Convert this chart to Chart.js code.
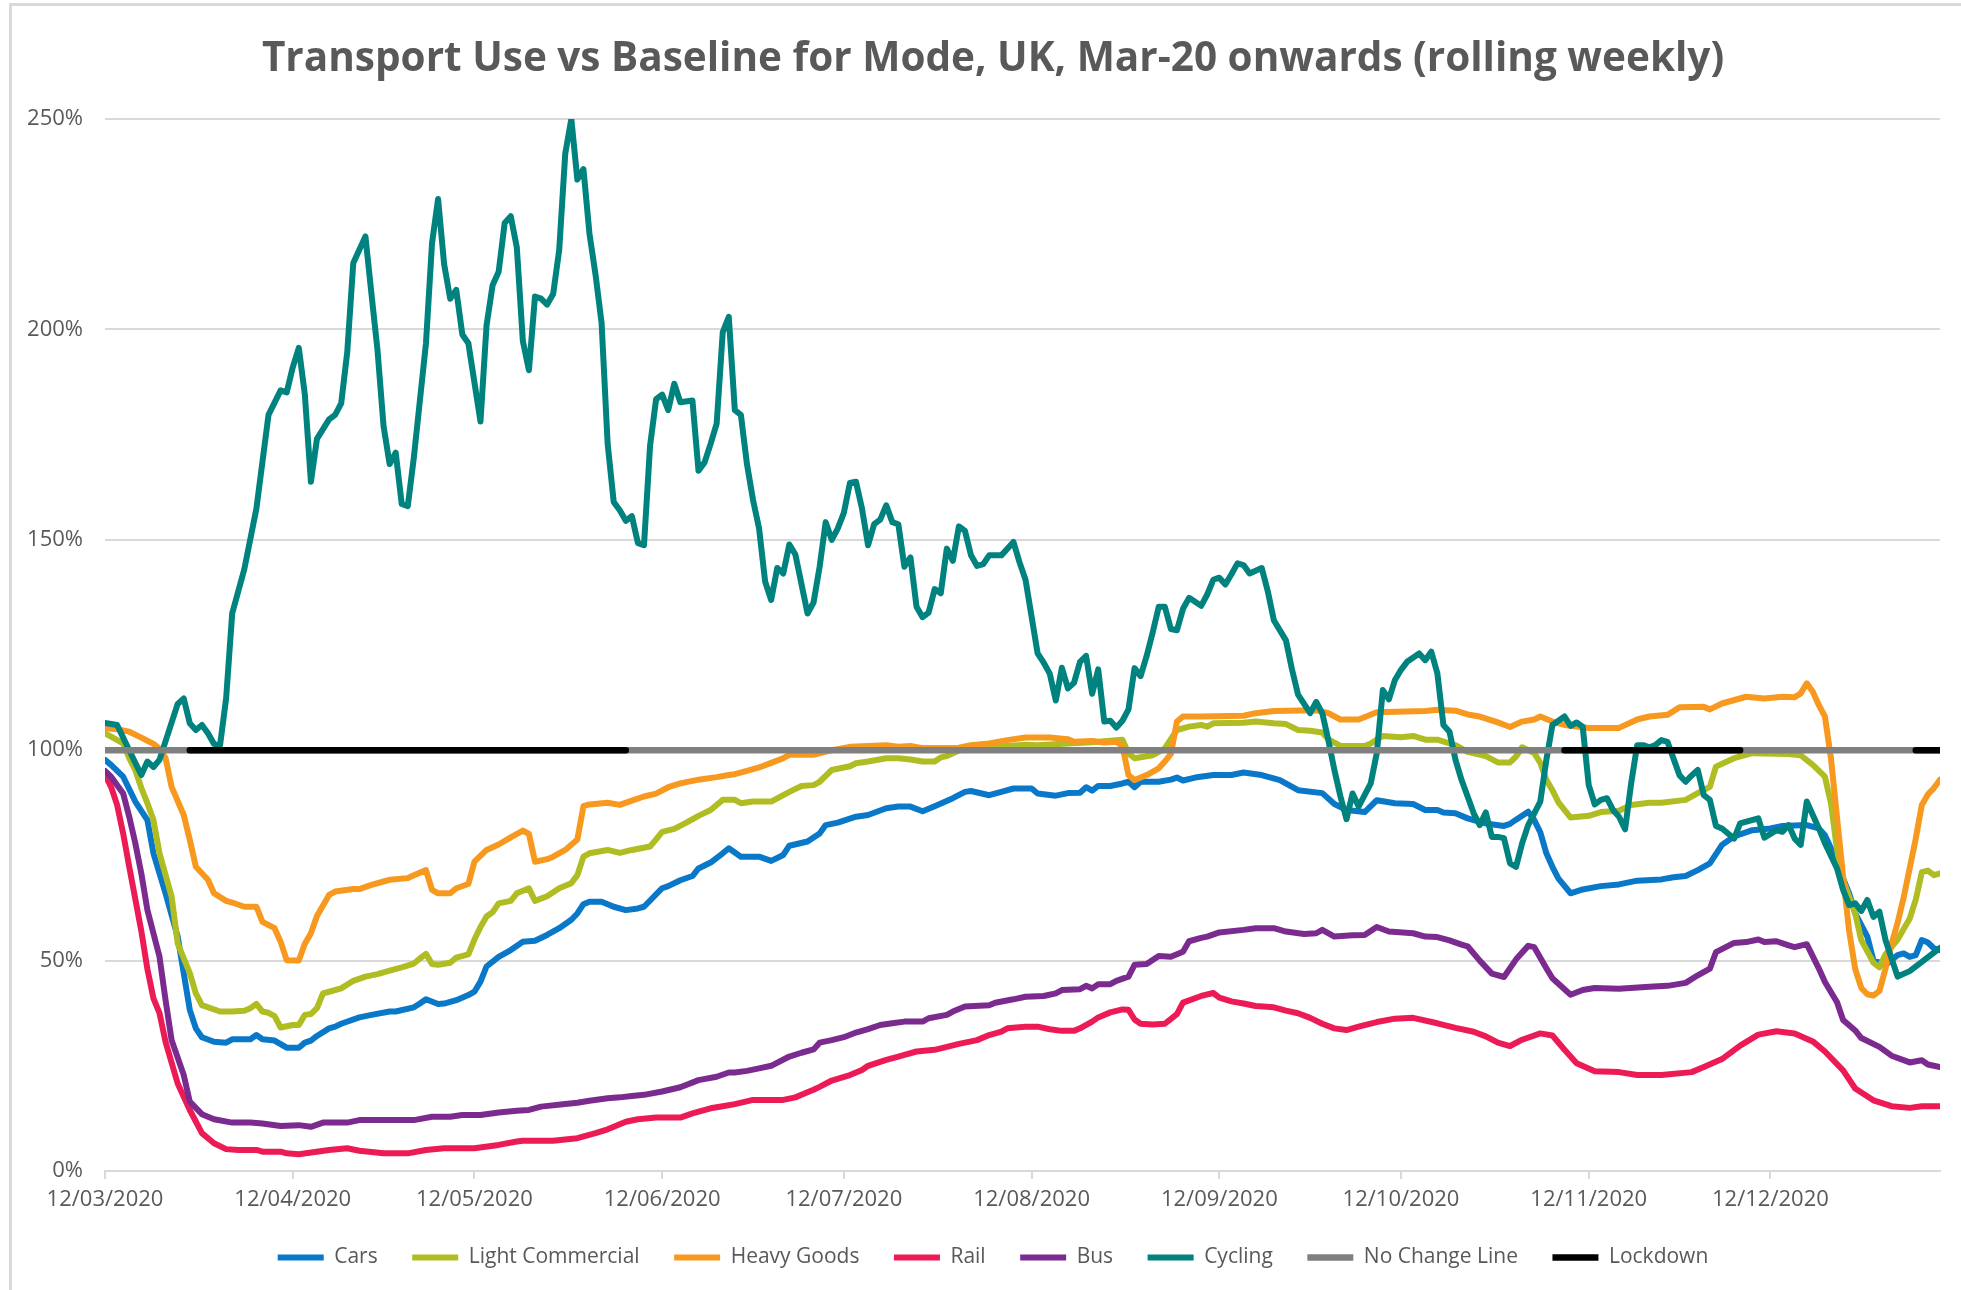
<!DOCTYPE html>
<html>
<head>
  <title>Transport Use vs Baseline</title>
  <script src="https://cdn.jsdelivr.net/npm/chart.js"></script>
  <style>
    html, body { margin: 0; padding: 0; background: #fff; overflow: hidden; }
    #frame { position: absolute; left: 9px; top: 3px; width: 2100px; height: 1400px;
             border-left: 3px solid #d9d9d9; border-top: 3px solid #d9d9d9; }
    #chart { position: absolute; left: 0; top: 0; }
  </style>
</head>
<body>
  <div id="frame"></div>
  <!-- canvas is a bit wider than the window so title/legend centre where the original does -->
  <canvas id="chart" width="2007" height="1290"></canvas>
  <script>
    // x = days since 12/03/2020, y = % of baseline
    const lastDay = 303;
    const tickDays = [0, 31, 61, 92, 122, 153, 184, 214, 245, 275];
    const tickLabels = ['12/03/2020', '12/04/2020', '12/05/2020', '12/06/2020', '12/07/2020',
                        '12/08/2020', '12/09/2020', '12/10/2020', '12/11/2020', '12/12/2020'];
    const lockdownSpans = [[14, 86], [241, 270], [299, 303]];

    const cars = [[0,97.7],[1,96.5],[3,93.7],[5,87.8],[7,83.4],[8,75.5],[10,66],[12,55.7],[13,47],[14,38.3],
      [15,33.9],[16,31.8],[18,30.7],[20,30.5],[21,31.3],[24,31.3],[25,32.3],[26,31.3],[28,31],[30,29.3],
      [32,29.3],[33,30.5],[34,31],[35,32.1],[37,33.9],[38,34.3],[39,35],[42,36.5],[44,37.1],[47,37.9],
      [48,37.9],[51,38.9],[52,39.8],[53,40.8],[55,39.7],[56,39.8],[58,40.6],[60,41.8],[61,42.6],[62,45],
      [63,48.6],[65,50.9],[67,52.5],[69,54.5],[71,54.7],[73,56.1],[75,57.7],[77,59.7],[78,61.2],[79,63.4],
      [80,64],[82,64],[84,62.8],[86,62],[88,62.4],[89,62.8],[92,67.2],[93,67.7],[95,69.1],[97,70.1],
      [98,71.9],[100,73.3],[102,75.5],[103,76.7],[105,74.7],[108,74.7],[110,73.7],[112,75.1],[113,77.3],[116,78.3],
      [118,80.2],[119,82.2],[121,82.8],[124,84.2],[126,84.6],[129,86.2],[131,86.6],[133,86.6],[135,85.5],[137,86.7],
      [140,88.6],[142,90.1],[143,90.3],[146,89.3],[148,90.1],[150,90.9],[153,90.9],[154,89.7],[157,89.2],[159,89.8],
      [161,89.9],[162,91.2],[163,90.4],[164,91.5],[166,91.5],[168,92.1],[169,92.5],[170,91.2],[171,92.5],[174,92.5],
      [176,93],[177,93.5],[178,92.8],[180,93.5],[183,94.1],[186,94.1],[188,94.7],[191,94.1],[194,92.9],[197,90.5],
      [201,89.8],[203,87.2],[205,85.8],[208,85.3],[210,88.1],[213,87.4],[216,87.2],[218,85.8],[220,85.8],[221,85.2],
      [223,85],[225,83.8],[227,83],[228,82.6],[231,82],[232,82.5],[233,83.5],[235,85.4],[236,83.4],[237,80.5],
      [238,75.5],[239,72.3],[240,69.5],[242,66],[244,66.9],[247,67.7],[250,68.1],[253,69],[257,69.3],[259,69.8],
      [261,70.1],[263,71.5],[265,73.1],[267,77.5],[269,79.5],[272,81],[275,81.4],[277,82],[281,82.2],[283,81.4],
      [284,79.8],[285,76.7],[286,73],[288,66],[289,61.2],[291,55.7],[292,50.1],[294,49],[296,51.3],[297,51.7],
      [298,50.9],[299,51.3],[300,54.9],[301,54.3],[302,52.9],[303,52.5]];

    const lightCommercial = [[0,104],[1,103.2],[3,101.6],[4,98.1],[5,95.3],[6,91],[7,87.4],[8,83.4],[9,75.5],[11,65.2],
      [12,54.1],[14,47],[15,42.2],[16,39.4],[19,37.9],[21,37.9],[23,38.1],[24,38.7],[25,39.7],[26,37.9],
      [27,37.6],[28,36.8],[29,34.1],[31,34.7],[32,34.7],[33,37.1],[34,37.3],[35,38.7],[36,42.2],[37,42.6],
      [39,43.4],[41,45.2],[43,46.2],[45,46.8],[47,47.6],[49,48.4],[51,49.3],[52,50.5],[53,51.6],[54,49.2],
      [55,49],[57,49.5],[58,50.7],[60,51.5],[61,55],[62,58],[63,60.5],[64,61.5],[65,63.6],[67,64.2],
      [68,66],[70,67.2],[71,64.2],[73,65.3],[75,67.2],[77,68.4],[78,70.3],[79,74.7],[80,75.5],[83,76.3],
      [85,75.6],[87,76.3],[90,77.1],[91,78.8],[92,80.6],[94,81.3],[96,82.8],[98,84.4],[100,85.8],[102,88.2],
      [104,88.2],[105,87.4],[107,87.8],[110,87.8],[113,90.1],[115,91.5],[117,91.7],[118,92.5],[120,95.3],[123,96.2],
      [124,96.9],[126,97.3],[129,98.1],[131,98.1],[133,97.8],[135,97.3],[137,97.3],[138,98.3],[139,98.6],[141,99.9],
      [142,100.2],[147,100.8],[152,101.3],[154,101.2],[159,101.6],[163,101.9],[168,102.5],[169,99.2],[170,98.1],[173,98.8],
      [175,100.4],[177,104.8],[179,105.6],[181,106],[182,105.6],[183,106.4],[188,106.5],[190,106.8],[193,106.4],[195,106.2],
      [197,104.8],[199,104.6],[201,104.2],[202,102.6],[204,101],[208,101],[209,101.6],[211,103.4],[214,103.1],[216,103.4],
      [218,102.5],[220,102.5],[222,101.6],[223,101.2],[225,99.6],[228,98.6],[230,97.1],[232,97.1],[233,98.5],[234,100.7],
      [236,99.3],[237,97],[238,93],[239,90.5],[240,87.6],[242,84],[245,84.4],[247,85.3],[250,85.6],[252,87],
      [255,87.5],[257,87.5],[261,88.2],[263,89.8],[265,91.3],[266,96.1],[269,98.1],[272,99.3],[278,99.1],[280,98.8],
      [282,96.5],[284,93.7],[285,87.4],[286,76.3],[287,69.2],[289,61.2],[290,54.9],[292,49.5],[293,48.4],[294,51.5],
      [296,55],[298,60],[299,64.5],[300,71],[301,71.4],[302,70.3],[303,70.7]];

    const heavyGoods = [[0,105.2],[2,105],[4,104.4],[6,103],[8,101.5],[9,100.4],[10,98.1],[11,91.3],[13,84.6],[14,78.7],
      [15,72.3],[17,69.2],[18,66],[20,64.2],[21,63.8],[23,62.8],[25,62.8],[26,59.2],[28,57.7],[29,54.5],
      [30,50.1],[32,50],[33,54],[34,56.5],[35,60.6],[37,65.6],[38,66.4],[41,67],[42,67],[44,68],
      [46,68.8],[47,69.2],[50,69.6],[51,70.3],[53,71.5],[54,66.8],[55,66],[57,66],[58,67.2],[60,68.2],
      [61,73.5],[63,76.3],[65,77.6],[67,79.3],[69,80.9],[70,80.1],[71,73.5],[73,74.1],[74,74.7],[76,76.3],
      [78,78.8],[79,86.7],[80,87.1],[83,87.5],[85,87],[87,88],[89,89],[91,89.7],[93,91.2],[95,92.1],
      [96,92.4],[98,93],[101,93.6],[103,94.1],[104,94.3],[106,95.1],[108,95.9],[110,97],[112,98.1],[113,98.9],
      [117,98.9],[120,100],[123,100.8],[126,101],[129,101.2],[131,100.8],[133,101],[135,100.5],[141,100.6],[143,101.2],
      [146,101.6],[149,102.4],[152,103],[156,103],[159,102.6],[160,102],[163,102.2],[165,101.8],[167,102],[168,101],
      [169,94.1],[170,92.9],[172,94.1],[174,95.7],[175,97.3],[176,99.1],[177,106.8],[178,108],[181,108],[188,108.2],
      [190,108.8],[193,109.3],[200,109.5],[202,108.8],[204,107.3],[207,107.3],[210,109],[218,109.3],[220,109.6],[223,109.4],
      [225,108.5],[227,108],[230,106.6],[232,105.5],[234,106.8],[236,107.3],[237,108],[239,106.8],[241,106],[245,105.3],
      [250,105.3],[253,107.3],[255,108],[258,108.4],[260,110.2],[264,110.3],[265,109.7],[267,111.1],[271,112.7],[274,112.3],
      [277,112.7],[279,112.6],[280,113.5],[281,115.9],[282,113.9],[283,110.7],[284,108],[285,98],[286,84],[287,70],
      [288,57],[289,48],[290,43.5],[291,42],[292,41.7],[293,42.8],[294,48.1],[295,54],[296,59],[297,65],
      [298,72],[299,79],[300,87],[301,89.5],[302,91],[303,93]];

    const rail = [[0,94.1],[1,91.3],[2,87],[3,80.2],[4,72.3],[6,57],[7,48],[8,41],[9,37.5],[10,30.7],
      [12,20.8],[14,14.5],[16,9],[18,6.6],[20,5.2],[22,5],[25,5],[26,4.6],[29,4.6],[30,4.2],
      [32,4],[37,5],[40,5.4],[42,4.8],[46,4.2],[50,4.2],[53,5],[56,5.4],[61,5.4],[65,6.2],
      [68,7],[69,7.2],[74,7.2],[78,7.8],[81,9],[83,9.9],[84,10.5],[86,11.7],[88,12.3],[91,12.7],
      [95,12.7],[97,13.7],[100,14.9],[102,15.4],[104,15.9],[107,16.9],[112,16.9],[114,17.5],[115,18.1],[117,19.3],
      [118,20],[120,21.5],[123,22.8],[125,24],[126,25],[129,26.4],[131,27.2],[132,27.6],[134,28.4],[137,28.8],
      [139,29.5],[141,30.2],[144,31.1],[146,32.3],[148,33.1],[149,33.9],[152,34.3],[154,34.3],[156,33.7],[158,33.3],
      [160,33.3],[161,33.9],[163,35.5],[164,36.5],[166,37.7],[168,38.4],[169,38.3],[170,36],[171,35],[173,34.8],
      [175,35],[177,37.3],[178,40],[181,41.6],[183,42.3],[184,41.2],[186,40.3],[188,39.8],[190,39.2],[193,38.9],
      [195,38.1],[197,37.5],[199,36.4],[201,35],[203,33.9],[205,33.5],[207,34.3],[210,35.4],[213,36.2],[216,36.4],
      [220,35.1],[223,34],[226,33.1],[228,32],[230,30.5],[232,29.7],[234,31.2],[237,32.7],[239,32.2],[241,28.8],
      [243,25.6],[246,23.7],[250,23.5],[253,22.8],[257,22.8],[262,23.5],[264,24.7],[267,26.6],[270,29.8],[273,32.4],
      [276,33.2],[279,32.7],[282,30.8],[284,28.4],[287,23.9],[289,19.6],[292,16.8],[295,15.4],[298,15],[300,15.4],
      [303,15.4]];

    const bus = [[0,95.1],[1,93.7],[3,89.7],[4,84.2],[5,77.9],[6,70.7],[7,62],[9,50.9],[10,40.6],[11,31.1],
      [13,22.8],[14,16.5],[16,13.5],[18,12.3],[21,11.5],[24,11.5],[26,11.3],[29,10.7],[32,10.9],[34,10.5],
      [36,11.5],[40,11.5],[42,12.1],[51,12.1],[54,12.9],[57,12.9],[59,13.3],[62,13.3],[65,13.9],[68,14.3],
      [70,14.5],[72,15.3],[76,15.9],[78,16.2],[80,16.7],[83,17.3],[85,17.5],[87,17.8],[89,18.1],[92,18.9],
      [95,19.9],[98,21.6],[101,22.4],[103,23.4],[104,23.4],[106,23.8],[108,24.4],[110,25],[113,27.2],[115,28.1],
      [117,28.9],[118,30.5],[120,31.1],[122,31.8],[124,32.9],[126,33.7],[128,34.7],[130,35.1],[132,35.5],[135,35.5],
      [136,36.3],[139,37.1],[140,37.9],[142,39.1],[146,39.4],[147,40],[150,40.8],[152,41.4],[155,41.6],[157,42.2],
      [158,43],[161,43.2],[162,44],[163,43.4],[164,44.4],[166,44.4],[167,45.2],[169,46.2],[170,49],[172,49.2],
      [174,51.1],[176,50.9],[178,52.1],[179,54.6],[181,55.4],[182,55.7],[184,56.7],[188,57.3],[190,57.7],[193,57.7],
      [195,56.9],[198,56.3],[200,56.5],[201,57.3],[203,55.7],[206,56],[208,56.1],[210,58],[212,56.9],[216,56.5],
      [218,55.7],[220,55.6],[222,54.8],[224,53.8],[225,53.4],[227,50],[229,46.9],[231,46.1],[233,50.3],[235,53.5],
      [236,53.2],[238,48.2],[239,45.8],[242,41.9],[244,43],[246,43.5],[250,43.3],[255,43.8],[258,44],[261,44.7],
      [263,46.5],[265,48.1],[266,52],[269,54.2],[271,54.4],[273,55],[274,54.4],[276,54.6],[278,53.6],[279,53.2],
      [281,53.9],[283,48.1],[284,44.9],[286,40.1],[287,35.9],[289,33.4],[290,31.6],[293,29.5],[295,27.4],[298,25.8],
      [300,26.3],[301,25.3],[303,24.7]];

    const cycling = [[0,106.5],[2,106],[4,100],[5,97],[6,94.1],[7,97.3],[8,96],[9,97.7],[12,111],[13,112.3],
      [14,106.4],[15,104.8],[16,106],[17,104],[18,101.5],[19,101.2],[20,112.3],[21,132.5],[23,143],[25,157.4],
      [27,179.7],[29,185.5],[30,185],[31,191],[32,195.6],[33,184.5],[34,163.8],[35,174],[37,178.6],[38,179.7],
      [39,182.4],[40,194.6],[41,215.8],[43,222.1],[44,208.4],[45,195],[46,177],[47,168],[48,170.7],[49,158.5],
      [50,158],[51,169.6],[53,196.7],[54,220.5],[55,231],[56,215.5],[57,207.3],[58,209.4],[59,198.8],[60,196.7],
      [62,178.1],[63,200.9],[64,210.5],[65,213.7],[66,225.3],[67,226.9],[68,219.5],[69,197.2],[70,190.3],[71,207.8],
      [72,207.3],[73,205.9],[74,208.4],[75,218.9],[76,241.8],[77,250],[78,235.6],[79,238.1],[80,222.7],[81,213],
      [82,201.5],[83,172.8],[84,159],[85,157],[86,154.5],[87,155.6],[88,149.2],[89,148.7],[90,172.3],[91,183.4],
      [92,184.5],[93,180.8],[94,187.1],[95,182.7],[97,183.1],[98,166.4],[99,168.4],[100,172.8],[101,177.6],[102,199.3],
      [103,203],[104,180.8],[105,179.7],[106,168],[107,159.5],[108,152.7],[109,140.1],[110,135.7],[111,143.3],[112,142],
      [113,148.9],[114,146.5],[116,132.5],[117,135.1],[118,143.6],[119,154.2],[120,150],[121,152.7],[122,156.4],[123,163.5],
      [124,163.8],[125,157.4],[126,148.7],[127,153.7],[128,154.8],[129,158.2],[130,154.2],[131,153.7],[132,143.6],[133,145.8],
      [134,134.1],[135,131.6],[136,132.7],[137,138.3],[138,137.3],[139,147.9],[140,145],[141,153.2],[142,152.1],[143,146.3],
      [144,143.8],[145,144.2],[146,146.3],[148,146.3],[149,147.9],[150,149.5],[151,144.7],[152,140.5],[154,123],[155,120.8],
      [156,118.2],[157,111.8],[158,119.6],[159,114.7],[160,116],[161,121],[162,122.4],[163,113.4],[164,119.2],[165,106.8],
      [166,107],[167,105.4],[168,107],[169,109.7],[170,119.5],[171,117.6],[172,122.4],[173,128],[174,134.1],[175,134.1],
      [176,128.8],[177,128.5],[178,133.6],[179,136.2],[181,134.3],[182,137],[183,140.5],[184,141],[185,139.4],[186,141.8],
      [187,144.4],[188,144],[189,142],[191,143.3],[192,137.8],[193,130.9],[195,126.1],[196,119.2],[197,113.2],[198,111],
      [199,108.8],[200,111.5],[201,108.8],[202,102.4],[203,95.3],[204,89],[205,83.6],[206,89.7],[207,86.6],[209,92.1],
      [210,99.3],[211,114.3],[212,112.1],[213,116.7],[214,119.1],[215,121],[217,123],[218,121.4],[219,123.4],[220,118.3],
      [221,106],[222,104.4],[223,97.7],[224,92.9],[225,89],[226,85],[227,82.2],[228,85.2],[229,79.4],[230,79.4],
      [231,79.1],[232,73.1],[233,72.3],[234,77.9],[235,82.2],[237,87.8],[238,97.7],[239,106],[241,108],[242,105.8],
      [243,106.6],[244,105.6],[245,91.7],[246,87.1],[247,88.2],[248,88.6],[249,85.8],[250,84.2],[251,81.2],[252,92.1],
      [253,101.2],[254,101.2],[255,100.7],[256,101.2],[257,102.4],[258,102],[259,98],[260,94],[261,92.5],[262,94],
      [263,95.3],[264,89.3],[265,88.2],[266,82],[267,81.4],[269,79],[270,82.6],[273,83.8],[274,79.2],[276,81],
      [277,80.6],[278,82.2],[279,79],[280,77.5],[281,87.8],[282,84.6],[283,81.4],[284,77.9],[286,71.9],[287,66.8],
      [288,63.2],[289,63.6],[290,61.8],[291,64.4],[292,60.4],[293,61.6],[294,54.9],[296,46.2],[298,47.5],[300,49.7],
      [303,53]];

    const textColor = '#595959';
    const gridColor = '#d9d9d9';
    const tickFont = { family: '"Open Sans", sans-serif', size: 22 };

    const xy = (arr) => arr.map(([x, y]) => ({ x: x, y: y }));
    const noChange = [{ x: 0, y: 100 }, { x: lastDay, y: 100 }];
    const lockdown = [];
    lockdownSpans.forEach(([a, b]) => {
      lockdown.push({ x: a, y: 100 }, { x: b, y: 100 }, { x: b + 0.5, y: null });
    });

    function series(label, data, color, width, order) {
      return {
        label: label, data: data, borderColor: color, backgroundColor: color,
        borderWidth: width, pointRadius: 0, tension: 0, fill: false,
        borderJoinStyle: 'round', borderCapStyle: 'round', spanGaps: false, order: order
      };
    }

    const datasets = [
      series('Cars', xy(cars), '#0a78c8', 6, 8),
      series('Light Commercial', xy(lightCommercial), '#afbd22', 6, 7),
      series('Heavy Goods', xy(heavyGoods), '#f7991f', 6, 6),
      series('Rail', xy(rail), '#ed1b55', 6, 5),
      series('Bus', xy(bus), '#7b2b8f', 6, 4),
      series('Cycling', xy(cycling), '#00827f', 6, 3),
      series('No Change Line', noChange, '#808080', 6.5, 2),
      series('Lockdown', lockdown, '#000000', 6.5, 1)
    ];

    new Chart(document.getElementById('chart'), {
      type: 'line',
      data: { datasets: datasets },
      options: {
        responsive: false,
        animation: false,
        devicePixelRatio: 1,
        layout: { padding: { left: 0, right: 21, top: 0, bottom: 12 } },
        plugins: {
          title: {
            display: true,
            text: 'Transport Use vs Baseline for Mode, UK, Mar-20 onwards (rolling weekly)',
            color: textColor,
            font: { family: '"Open Sans", sans-serif', size: 40.5, weight: 'bold' },
            padding: { top: 35, bottom: 35.4 }
          },
          legend: {
            position: 'bottom',
            labels: {
              usePointStyle: true, pointStyle: 'line', pointStyleWidth: 46, padding: 34.5,
              color: textColor, font: { family: '"Open Sans", sans-serif', size: 21 },
              sort: (a, b) => a.datasetIndex - b.datasetIndex
            }
          },
          tooltip: { enabled: false }
        },
        scales: {
          x: {
            type: 'linear', min: 0, max: lastDay,
            afterBuildTicks: (s) => { s.ticks = tickDays.map(v => ({ value: v })); },
            afterFit: (s) => { s.height = 41.5; },
            ticks: {
              callback: (v) => tickLabels[tickDays.indexOf(v)],
              autoSkip: false, maxRotation: 0, color: textColor, font: tickFont, padding: 8
            },
            grid: { drawOnChartArea: false, color: gridColor, lineWidth: 2, tickLength: 8 },
            border: { color: gridColor, width: 2 }
          },
          y: {
            min: 0, max: 250,
            afterFit: (s) => { s.width = 105; },
            ticks: { stepSize: 50, callback: (v) => v + '%', padding: 22, color: textColor, font: tickFont },
            grid: { color: gridColor, lineWidth: 2, drawTicks: false },
            border: { display: false }
          },
          // empty spacer on the right so the plot stops at the same place as the original
          spacer: {
            position: 'right', min: 0, max: 1,
            afterFit: (s) => { s.width = 46; },
            ticks: { display: false },
            grid: { display: false, drawTicks: false },
            border: { display: false }
          }
        }
      }
    });
  </script>
</body>
</html>
